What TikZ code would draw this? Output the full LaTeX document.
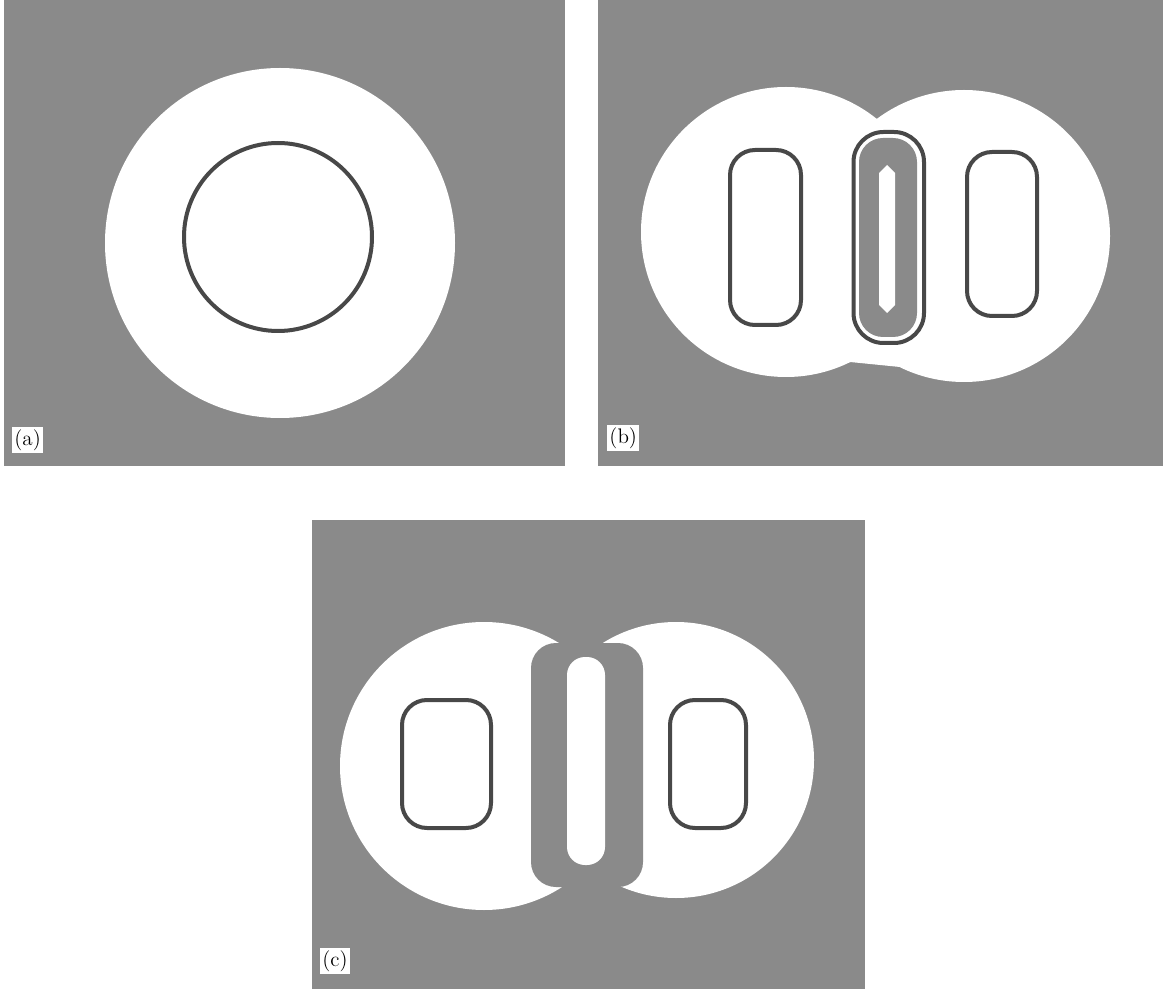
\documentclass[tikz,border=0pt]{standalone}
\definecolor{bggray}{RGB}{138,138,138}
\definecolor{contour}{RGB}{72,72,72}

\begin{document}
\begin{tikzpicture}[x=0.02cm, y=-0.02cm, font=\fontsize{12}{14}\selectfont,
    level/.style={draw=contour, line width=0.08cm},
    tag/.style={fill=white, inner sep=1.2pt, anchor=south west}]
  \useasboundingbox (0,0) rectangle (1163,989);
  \foreach \xa/\ya/\xb/\yb in {4/0/565/466, 598/0/1163/466, 312/520/865/989}
    \fill[bggray] (\xa,\ya) rectangle (\xb,\yb);

  % (a) one body
  \fill[white] (280,243) circle[radius=175];
  \draw[level] (278,237) circle[radius=94];

  % (b) two bodies, one shared level in between
  \fill[white] (786,232) circle[radius=145] (964,236) circle[radius=146];
  \fill[white] (850,362) -- (900,367) -- (900,340) -- (850,340) -- cycle;
  \foreach \xa/\xb/\ya/\yb in {730/801/150/325, 967/1037/152/316}
    \draw[level, rounded corners=0.5cm] (\xa,\ya) rectangle (\xb,\yb);
  \draw[level, rounded corners=0.6cm] (853.5,132) rectangle (924,343);
  \fill[bggray, rounded corners=0.48cm] (859,138) rectangle (917,337);
  \fill[white] (887,165) -- (895,173) -- (895,305) -- (887,313) -- (879,305) -- (879,173) -- cycle;

  % (c) bodies split by the bar
  \fill[white] (484,766) circle[radius=144] (676,760) circle[radius=138];
  \fill[bggray, rounded corners=0.5cm] (531,643) rectangle (643,887);
  \fill[white, rounded corners=0.36cm] (567,657) rectangle (605,865);
  \foreach \xa/\xb in {402/491, 670/746}
    \draw[level, rounded corners=0.5cm] (\xa,700) rectangle (\xb,828);

  \node[tag] (taga) at (12,453) {(a)};
  \node[tag] (tagb) at (607,451) {(b)};
  \node[tag] (tagc) at (320,974) {(c)};
\end{tikzpicture}
\end{document}
